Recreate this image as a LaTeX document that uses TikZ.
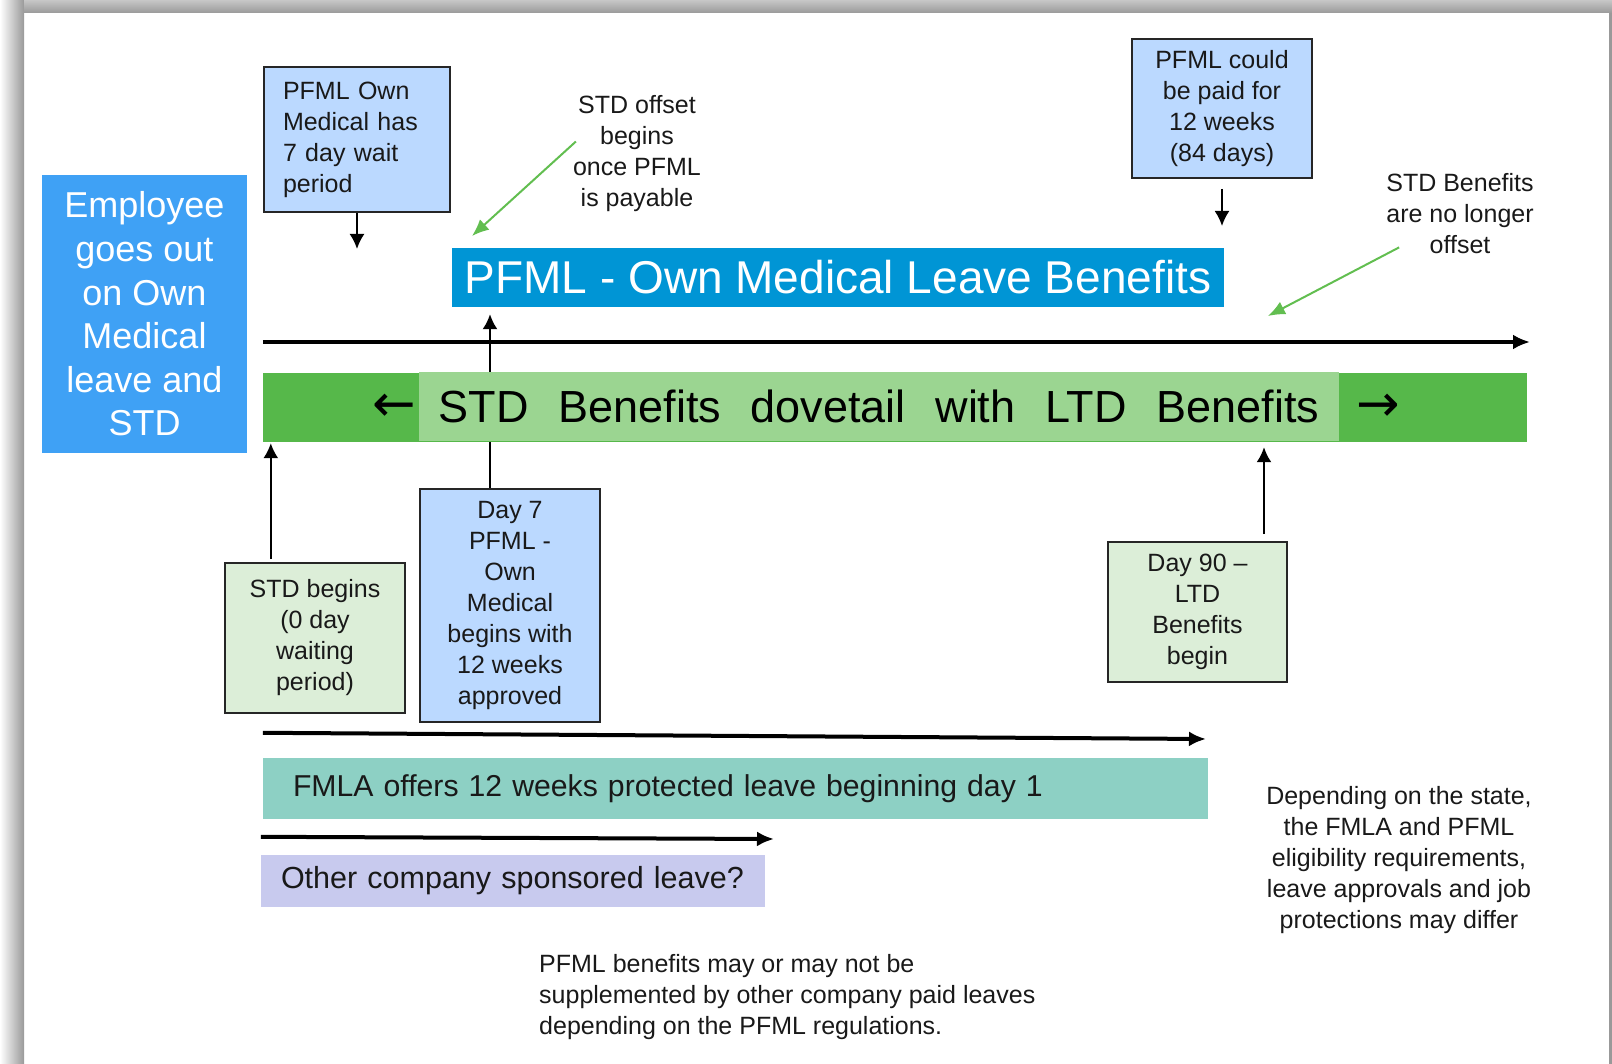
\documentclass[tikz,border=0pt]{standalone}
\usepackage{fontspec}
\setmainfont{Liberation Sans}
\newfontfamily\arrowfont{DejaVu Sans}
\usetikzlibrary{calc,shapes,arrows.meta,positioning}

\definecolor{framegray}{RGB}{153,153,153}
\definecolor{empblue}{RGB}{63,161,245}
\definecolor{bannerblue}{RGB}{0,149,213}
\definecolor{noteblue}{RGB}{187,217,255}
\definecolor{notegreen}{RGB}{220,238,216}
\definecolor{bargreen}{RGB}{86,184,74}
\definecolor{barlight}{RGB}{155,213,145}
\definecolor{fmlateal}{RGB}{141,208,196}
\definecolor{otherlav}{RGB}{200,202,238}
\definecolor{arrowgreen}{RGB}{98,190,80}

\tikzset{
  note/.style={draw=black!85, line width=2pt, inner sep=0pt, align=center,
    text=black!90, font=\fontsize{25}{31}\selectfont},
  bluenote/.style={note, fill=noteblue},
  greennote/.style={note, fill=notegreen},
  plain/.style={inner sep=0pt, align=center, text=black!90,
    font=\fontsize{25}{31}\selectfont},
  pointer/.style={-{Latex[length=15pt,width=15pt]}, line width=2pt},
  timeline/.style={-{Latex[length=17pt,width=15pt]}, line width=4pt},
  greenpointer/.style={-{Latex[length=17pt,width=14pt]}, line width=2pt, draw=arrowgreen, color=arrowgreen}
}

\begin{document}
\begin{tikzpicture}[x=1pt,y=-1pt]
    \useasboundingbox (0,0) rectangle (1612,1064);
    % frame
    \shade[left color=white, right color=framegray] (0,0) rectangle (24,1064);
    \shade[top color=framegray!55, bottom color=framegray] (24,0) rectangle (1612,13);
    \fill[framegray] (1609,13) rectangle (1612,1064);

    \node[fill=empblue, text=white, minimum width=205pt, minimum height=278pt, inner sep=0pt,
        align=center, font=\fontsize{36}{43.6}\selectfont] (employee) at (144.5,314)
        {Employee\\goes out\\on Own\\Medical\\leave and\\STD};

    % top notes
    \node[bluenote, minimum width=186pt, minimum height=145pt, text width=148pt, align=left] (waitnote)
        at (357,139.5) {PFML Own\\Medical has\\7 day wait\\period};
    \node[plain] (offset) at (637,153.5) {STD offset\\begins\\once PFML\\is payable};
    \node[bluenote, minimum width=180pt, minimum height=139pt] (paidnote)
        at (1222,108.5) {PFML could\\be paid for\\12 weeks\\(84 days)};
    \node[plain] (nooffset) at (1460,214) {STD Benefits\\are no longer\\offset};

    \node[fill=bannerblue, text=white, minimum width=772pt, minimum height=59pt, inner sep=0pt,
        font=\fontsize{46}{50}\selectfont] (banner) at (838,277.5) {PFML - Own Medical Leave Benefits};

    % bottom notes
    \node[greennote, minimum width=180pt, minimum height=150pt] (stdstart)
        at (315,638) {STD begins\\(0 day\\waiting\\period)};
    \node[bluenote, minimum width=180pt, minimum height=233pt] (daysev)
        at (510,605) {Day 7\\PFML -\\Own\\Medical\\begins with\\12 weeks\\approved};
    \node[greennote, minimum width=179pt, minimum height=140pt] (ltdstart)
        at (1197.5,612) {Day 90 --\\LTD\\Benefits\\begin};

    \coordinate (sevtop) at ([xshift=-20pt]daysev.north);
    \draw[pointer, shorten >=7pt] (sevtop) -- (sevtop |- banner.south);

    % STD / LTD bar
    \node[fill=bargreen, minimum width=1264pt, minimum height=69pt, inner sep=0pt] (stdbar) at (895,407.5) {};
    \node[fill=barlight, minimum width=920pt, minimum height=69pt, inner sep=0pt,
        font=\fontsize{45}{50}\selectfont] (dovetail) at (879,406.5)
        {STD\hspace{0.66em}Benefits\hspace{0.66em}dovetail\hspace{0.66em}with\hspace{0.66em}LTD\hspace{0.66em}Benefits};
    \node[inner sep=0pt, font=\fontsize{52}{56}\selectfont\arrowfont] (leftarr) at (394,408) {←};
    \node[inner sep=0pt, font=\fontsize{52}{56}\selectfont\arrowfont] (rightarr) at (1378,408) {→};

    \coordinate (lineend) at (1530,342);
    \draw[timeline] (stdbar.west |- lineend) -- (lineend);

    \draw[pointer] (waitnote.south) -- ++(0,36);
    \draw[pointer] ([yshift=-10pt]paidnote.south) -- ++(0,37);
    \coordinate (stdfoot) at ([xshift=8pt]stdbar.south west);
    \draw[pointer, shorten >=1pt] ([yshift=3pt]stdfoot |- stdstart.north) -- (stdfoot);
    \coordinate (ltdfoot) at ([xshift=66.5pt,yshift=7pt]ltdstart.north);
    \draw[pointer, shorten >=5pt] (ltdfoot) -- (ltdfoot |- stdbar.south);

    % green pointers
    \coordinate (offtip) at (472,236);
    \draw[greenpointer] ([xshift=3pt,yshift=12pt]offset.west) -- (offtip);
    \coordinate (nooffsettip) at (1268,316);
    \draw[greenpointer] ([xshift=13pt,yshift=7pt]nooffset.south west) -- (nooffsettip);

    % leave bands
    \node[fill=fmlateal, minimum width=945pt, minimum height=61pt, text width=885pt, inner xsep=30pt,
        inner ysep=0pt, align=left, text=black!90, font=\fontsize{30.2}{36}\selectfont] (fmla)
        at (735.5,788.5) {FMLA offers 12 weeks protected leave beginning day 1};
    \coordinate (fmlaend) at (1206,739);
    \draw[timeline] ([yshift=25pt]fmla.north west) -- (fmlaend);

    \node[fill=otherlav, minimum width=504pt, minimum height=52pt, text width=464pt, inner xsep=20pt,
        inner ysep=0pt, align=left, text=black!90, font=\fontsize{30.5}{36}\selectfont] (other)
        at (513,881) {Other company sponsored leave?};
    \coordinate (otherend) at (774,839);
    \draw[timeline] ([yshift=18pt]other.north west) -- (otherend);

    % remarks
    \node[plain, align=left, anchor=west] (pfmlnote) at (539,997)
        {PFML benefits may or may not be\\supplemented by other company paid leaves\\depending on the PFML regulations.};
    \node[plain] (statenote) at (1399,860)
        {Depending on the state,\\the FMLA and PFML\\eligibility requirements,\\leave approvals and job\\protections may differ};
\end{tikzpicture}
\end{document}
